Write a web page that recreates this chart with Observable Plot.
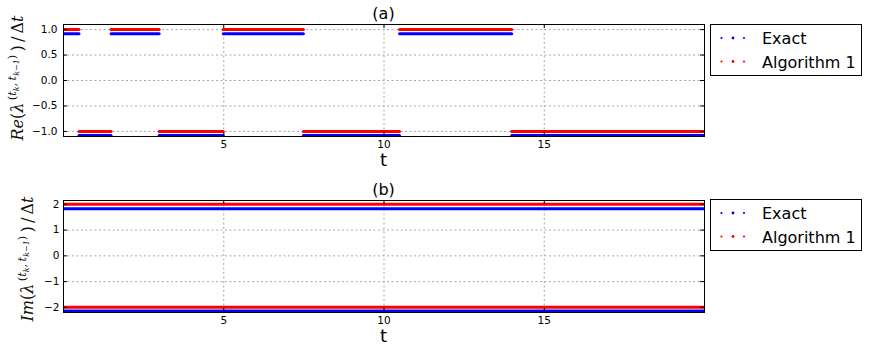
<!DOCTYPE html>
<html><head><meta charset="utf-8">
<script src="https://cdn.jsdelivr.net/npm/d3@7"></script>
<script src="https://cdn.jsdelivr.net/npm/@observablehq/plot@0.6"></script>
<style>
body{margin:0;background:#fff;}
#wrap{position:relative;width:869px;height:352px;overflow:hidden;background:#fff;}
#wrap > svg{position:absolute;left:0;}
</style></head><body><div id="wrap"></div>
<script>
// ---- data ----
const segStart = [0.0, 0.5, 1.5, 3.0, 5.0, 7.5, 10.5, 14.0];
const segEnd   = [0.5, 1.5, 3.0, 5.0, 7.5, 10.5, 14.0, 20.0];
const reExact  = [0.92, -1.08, 0.92, -1.08, 0.92, -1.08, 0.92, -1.08];
const reAlg1   = [1.0, -1.0, 1.0, -1.0, 1.0, -1.0, 1.0, -1.0];
const imStart  = [0.0, 0.0];
const imEnd    = [20.0, 20.0];
const imExact  = [1.83, -2.14];
const imAlg1   = [2.0, -2.0];
const xTicks   = [5, 10, 15];
const reTicks  = [-1.0, -0.5, 0.0, 0.5, 1.0];
const imTicks  = [-2, -1, 0, 1, 2];
const seriesNames  = ["Exact", "Algorithm 1"];
const seriesColors = ["#0000ff", "#ff0000"];
const panelTitles  = ["(a)", "(b)"];
const xLabel = "t";

function buildRows(starts, ends, exact, alg) {
  const rows = [];
  starts.forEach((s, i) => rows.push({x1: s, x2: ends[i], y: exact[i], series: seriesNames[0]}));
  starts.forEach((s, i) => rows.push({x1: s, x2: ends[i], y: alg[i], series: seriesNames[1]}));
  return rows;
}

const W = 869, H = 176, mt = 24, mb = 40, ml = 63, mr = 165;
const fh = H - mt - mb, fw = W - ml - mr;

function panel(rows, yDomain, yTicks, yFmt, tickPad) {
  return Plot.plot({
    width: W, height: H, marginTop: mt, marginBottom: mb, marginLeft: ml, marginRight: mr,
    x: {domain: [0, 20]},
    y: {domain: yDomain},
    color: {domain: seriesNames, range: seriesColors},
    style: {fontFamily: "DejaVu Sans", fontSize: "10.5px", color: "black", background: "white"},
    marks: [
      Plot.ruleX(xTicks, {stroke: "#a8a8a8", strokeDasharray: "2,2.5"}),
      Plot.ruleY(yTicks, {stroke: "#a8a8a8", strokeDasharray: "2,2.5"}),
      Plot.ruleY(rows, {y: "y", x1: "x1", x2: "x2", stroke: "series", strokeWidth: 3, strokeLinecap: "round", clip: true}),
      Plot.ruleX(xTicks, {insetTop: fh - 4, stroke: "black"}),
      Plot.ruleX(xTicks, {insetBottom: fh - 4, stroke: "black"}),
      Plot.ruleY(yTicks, {insetRight: fw - 4, stroke: "black"}),
      Plot.ruleY(yTicks, {insetLeft: fw - 4, stroke: "black"}),
      Plot.axisX({ticks: xTicks, tickSize: 0, tickPadding: 4, label: null}),
      Plot.axisY({ticks: yTicks, tickSize: 0, tickPadding: tickPad, tickFormat: yFmt, label: null}),
      Plot.frame({stroke: "black", strokeWidth: 1})
    ]
  });
}

const wrap = document.getElementById("wrap");
const pA = panel(buildRows(segStart, segEnd, reExact, reAlg1), [-1.1, 1.1], reTicks, d3.format(".1f"), 6);
const pB = panel(buildRows(imStart, imEnd, imExact, imAlg1), [-2.2, 2.15], imTicks, d3.format("d"), 4);
pA.style.top = "0px";
pB.style.top = H + "px";
wrap.appendChild(pA);
wrap.appendChild(pB);

// ---- overlay: titles, axis labels, legends ----
const ov = d3.select(wrap).append("svg").attr("width", W).attr("height", 2 * H)
  .style("position", "absolute").style("top", "0px").style("left", "0px");
const cx = ml + fw / 2;

function ylabel(x, y, prefix) {
  const t = ov.append("text").attr("transform", `translate(${x},${y}) rotate(-90)`)
    .attr("text-anchor", "middle").style("font-family", "DejaVu Serif").style("font-size", "16px").attr("fill", "#111");
  t.append("tspan").attr("font-style", "italic").text(prefix);
  t.append("tspan").text("(");
  t.append("tspan").attr("font-style", "italic").text("λ");
  t.append("tspan").attr("font-size", "11.5px").attr("dy", -7).text("\u2009(");
  t.append("tspan").attr("font-size", "11.5px").attr("font-style", "italic").text("t");
  t.append("tspan").attr("font-size", "8px").attr("font-style", "italic").attr("dy", 2.5).text("k");
  t.append("tspan").attr("font-size", "11.5px").attr("dy", -2.5).text(",\u2009");
  t.append("tspan").attr("font-size", "11.5px").attr("font-style", "italic").text("t");
  t.append("tspan").attr("font-size", "8px").attr("font-style", "italic").attr("dy", 2.5).text("k−1");
  t.append("tspan").attr("font-size", "11.5px").attr("dy", -2.5).text(")");
  t.append("tspan").attr("dy", 7).text("\u2009)\u2009/\u2009Δ");
  t.append("tspan").attr("font-style", "italic").text("t");
}

function legend(top) {
  const g = ov.append("g").attr("transform", `translate(710.5,${top + 0.5})`);
  g.append("rect").attr("width", 151).attr("height", 51).attr("fill", "white").attr("stroke", "black");
  seriesNames.forEach((name, i) => {
    const yy = 13.5 + i * 23.5;
    [11, 22.5, 33.5].forEach((dx, j) => g.append("circle").attr("cx", dx).attr("cy", yy).attr("r", j === 1 ? 1.4 : 1.1).attr("fill", seriesColors[i]));
    g.append("text").attr("x", 51.5).attr("y", yy + 6).style("font-family", "DejaVu Sans").style("font-size", "16px").text(name);
  });
}

[0, 1].forEach(i => {
  const off = i * H;
  ov.append("text").attr("x", cx).attr("y", off + 19).attr("text-anchor", "middle")
    .style("font-family", "DejaVu Sans").style("font-size", "16px").text(panelTitles[i]);
  ov.append("text").attr("x", cx).attr("y", off + 166).attr("text-anchor", "middle")
    .style("font-family", "DejaVu Sans").style("font-size", "18px").text(xLabel);
  legend(off + (i === 0 ? 24 : 23));
});
ylabel(23, 78, "Re");
ylabel(33, H + 83, "Im");
</script></body></html>
